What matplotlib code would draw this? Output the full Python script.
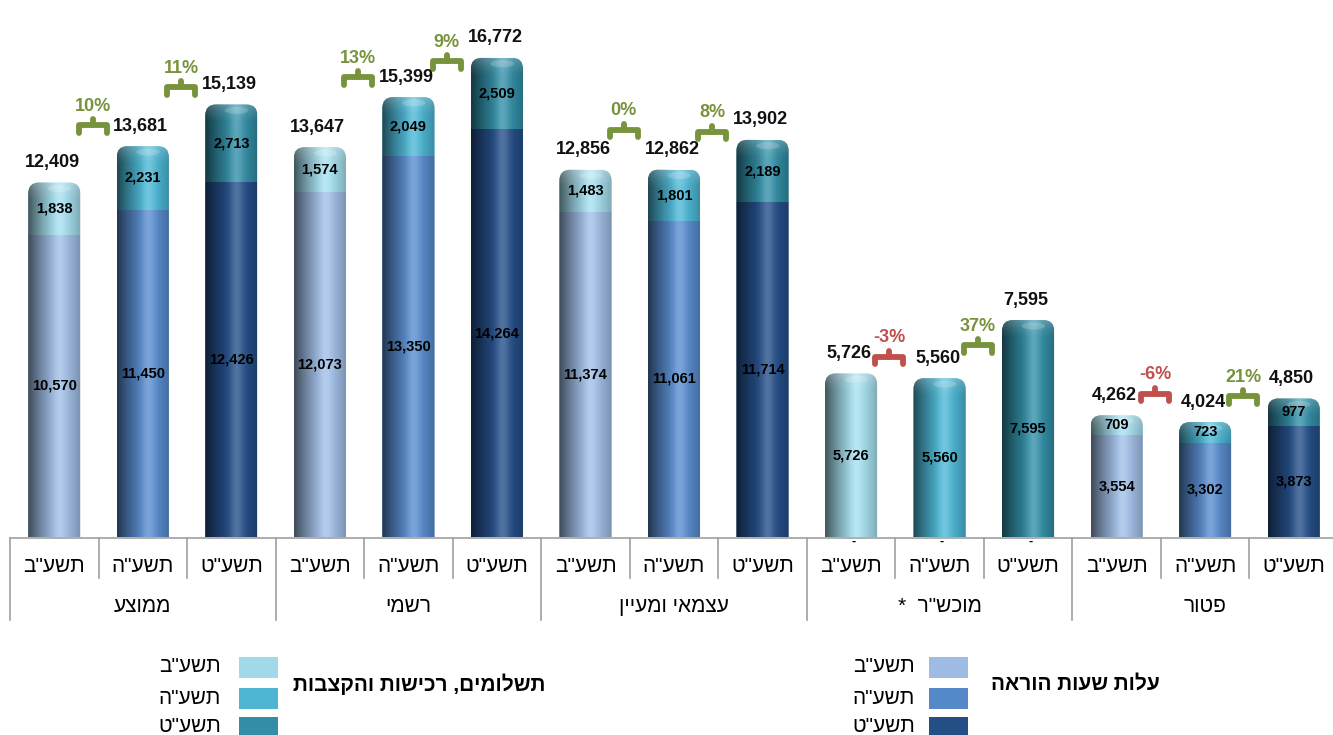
import numpy as np
import matplotlib
matplotlib.use('Agg')
import matplotlib.pyplot as plt
from matplotlib.patches import FancyBboxPatch, Ellipse, Rectangle
from matplotlib.lines import Line2D

plt.rcParams['font.family'] = ['Liberation Sans', 'DejaVu Sans']

# ---------------- data ----------------
groups = ['ממוצע', 'רשמי', 'עצמאי ומעיין', 'מוכש"ר  *', 'פטור']
years = ['תשע"ב', 'תשע"ה', 'תשע"ט']
teaching = [10570, 11450, 12426, 12073, 13350, 14264, 11374, 11061, 11714,
            0, 0, 0, 3554, 3302, 3873]
payments = [1838, 2231, 2713, 1574, 2049, 2509, 1483, 1801, 2189,
            5726, 5560, 7595, 709, 723, 977]
totals = [12409, 13681, 15139, 13647, 15399, 16772, 12856, 12862, 13902,
          5726, 5560, 7595, 4262, 4024, 4850]
pct_changes = [10, 11, 13, 9, 0, 8, -3, 37, -6, 21]
legend_teaching = 'עלות שעות הוראה'
legend_payments = 'תשלומים, רכישות והקצבות'

# ---------------- style ----------------
teach_colors = ['#A2C0E8', '#5A8ED0', '#26508A']
pay_colors = ['#A6E0EF', '#4DB8D6', '#3390A8']
legend_teach = ['#9DBBE3', '#5588C8', '#234F86']
legend_pay = ['#A0DAEA', '#4FB5D3', '#348DA6']
green, red = '#77933C', '#C0504D'
bracket_lift = [29, 28, 35, 6, 30, 13, 9, -6, 15, 4]   # px above mean bar top


def vis(s):
    """logical Hebrew -> visual order for LTR renderer"""
    return s[::-1]


W, H = 1333, 735
fig = plt.figure(figsize=(W / 100, H / 100), dpi=100)
base_px, left_px, axw_px = 537, 10, 1328
ax = fig.add_axes([left_px / W, (H - base_px) / H, axw_px / W, base_px / H])
ax.set_autoscale_on(False)
ymax = base_px * 35.0
ax.set_xlim(-0.5, 14.5)
ax.set_ylim(0, ymax)
ax.axis('off')

ux = 15.0 / axw_px      # data x per px
uy = ymax / base_px     # data y per px
slot = axw_px / 15.0

n = len(teaching)
x = np.arange(n)
w = 0.59

bt = ax.bar(x, teaching, w, color=[teach_colors[i % 3] for i in range(n)],
            linewidth=0, zorder=2)
bp = ax.bar(x, payments, w, bottom=teaching,
            color=[pay_colors[i % 3] for i in range(n)], linewidth=0, zorder=2)

# shading profiles (cylinder look)
N = 80
t = np.linspace(0, 1, N)
dark = np.where(t < 0.58, 0.62 * (1 - t / 0.58) ** 1.3,
                0.25 * ((t - 0.58) / 0.42) ** 1.6)
light = 0.20 * np.exp(-((t - 0.6) / 0.13) ** 2)
dark_img = np.zeros((1, N, 4)); dark_img[0, :, 3] = dark
light_img = np.ones((1, N, 4)); light_img[0, :, 3] = light
M = 40
tv = np.linspace(0, 1, M)  # 0 = bottom of cap zone, 1 = top
cap_img = np.ones((M, 1, 4)); cap_img[:, 0, 3] = (0.22 * tv ** 1.5)[::-1]

for i in range(n):
    top = teaching[i] + payments[i]
    r = 11 * ux
    clip = FancyBboxPatch((x[i] - w / 2, -30 * uy), w, top + 30 * uy,
                          boxstyle=f"round,pad=0,rounding_size={r}",
                          mutation_aspect=uy / ux, transform=ax.transData,
                          facecolor='none', edgecolor='none')
    ax.add_patch(clip)
    bt[i].set_clip_path(clip)
    bp[i].set_clip_path(clip)
    ext = (x[i] - w / 2, x[i] + w / 2, 0, top)
    for img in (dark_img, light_img):
        im = ax.imshow(img, extent=ext, aspect='auto', interpolation='bilinear',
                       zorder=3)
        im.set_clip_path(clip)
    # cap highlight (soft vertical fade)
    imc = ax.imshow(cap_img, extent=(x[i] - w / 2, x[i] + w / 2,
                                     top - 20 * uy, top),
                    aspect='auto', interpolation='bilinear', zorder=3,
                    origin='upper')
    imc.set_clip_path(clip)
    el = Ellipse((x[i] + 0.1 * w, top - 6 * uy), 0.45 * w, 7 * uy,
                 facecolor='white', alpha=0.18, linewidth=0, zorder=3)
    ax.add_patch(el)
    el.set_clip_path(clip)

    # segment labels
    if teaching[i] > 0:
        ax.text(x[i], teaching[i] / 2, f"{teaching[i]:,}", ha='center',
                va='center', fontsize=10.5, fontweight='bold', zorder=5)
    else:
        ax.text(x[i] + 2 * ux, -5 * uy, '-', ha='center', va='center',
                fontsize=9, fontweight='bold', zorder=5, clip_on=False)
    ax.text(x[i], teaching[i] + payments[i] / 2, f"{payments[i]:,}",
            ha='center', va='center', fontsize=10.5, fontweight='bold', zorder=5)
    # totals
    ax.text(x[i] - 2 * ux, top + 20 * uy, f"{totals[i]:,}", ha='center',
            va='center', fontsize=13, fontweight='bold', zorder=5,
            color='#111111')

# brackets with % change
k = 0
for g in range(5):
    for j in range(2):
        a = g * 3 + j
        b = a + 1
        p = pct_changes[k]
        col = green if p >= 0 else red
        cx = (x[a] + x[b]) / 2 - 6 * ux
        avg_top = (teaching[a] + payments[a] + teaching[b] + payments[b]) / 2
        yb = avg_top + bracket_lift[k] * uy
        xs = np.array([-14, -14, 14, 14]) * ux + cx
        ys = np.array([2.5, 10, 10, 2.5]) * uy + yb
        ax.plot(xs, ys, color=col, lw=4.2, solid_joinstyle='round',
                solid_capstyle='round', zorder=4, clip_on=False)
        ax.plot([cx, cx], [yb + 10 * uy, yb + 16 * uy], color=col, lw=4.2,
                solid_capstyle='round', zorder=4, clip_on=False)
        ax.text(cx, yb + 29 * uy, f"{p}%", ha='center', va='center',
                fontsize=13, fontweight='bold', color=col, zorder=5)
        k += 1


# ---------------- category table below axis ----------------
def fx(px):
    return px / W


def fy(py):
    return 1 - py / H


line_col = '#A0A0A0'
fig.add_artist(Line2D([fx(left_px), 1], [fy(538), fy(538)],
                      transform=fig.transFigure, color=line_col, lw=1.2))
for kk in range(16):
    xp = left_px + slot * kk
    y2 = 620 if kk % 3 == 0 else 578
    fig.add_artist(Line2D([fx(xp), fx(xp)], [fy(538), fy(y2)],
                          transform=fig.transFigure, color=line_col, lw=1.2))
for i in range(n):
    xp = left_px + slot * (i + 0.5)
    fig.text(fx(xp), fy(566), vis(years[i % 3]), ha='center', va='center',
             fontsize=15)
for g in range(5):
    xp = left_px + slot * (g * 3 + 1.5)
    fig.text(fx(xp), fy(606), vis(groups[g]), ha='center', va='center',
             fontsize=15)

# ---------------- legends ----------------
rows_y = [(657, 678), (688, 709), (717, 738)]
label_y = [667, 698, 726]


def legend_block(sw_x0, sw_x1, lab_right, title, title_cx, colors):
    for r, (y0, y1) in enumerate(rows_y):
        fig.add_artist(Rectangle((fx(sw_x0), fy(y1)), fx(sw_x1) - fx(sw_x0),
                                 fy(y0) - fy(y1), transform=fig.transFigure,
                                 facecolor=colors[r], edgecolor='none'))
        fig.text(fx(lab_right), fy(label_y[r]), vis(years[r]), ha='right',
                 va='center', fontsize=15)
    fig.text(fx(title_cx), fy(684), vis(title), ha='center', va='center',
             fontsize=15, fontweight='bold')


legend_block(239, 278, 221, legend_payments, 419, legend_pay)
legend_block(929, 968, 915, legend_teaching, 1075, legend_teach)

fig.savefig('out.png', dpi=100)
